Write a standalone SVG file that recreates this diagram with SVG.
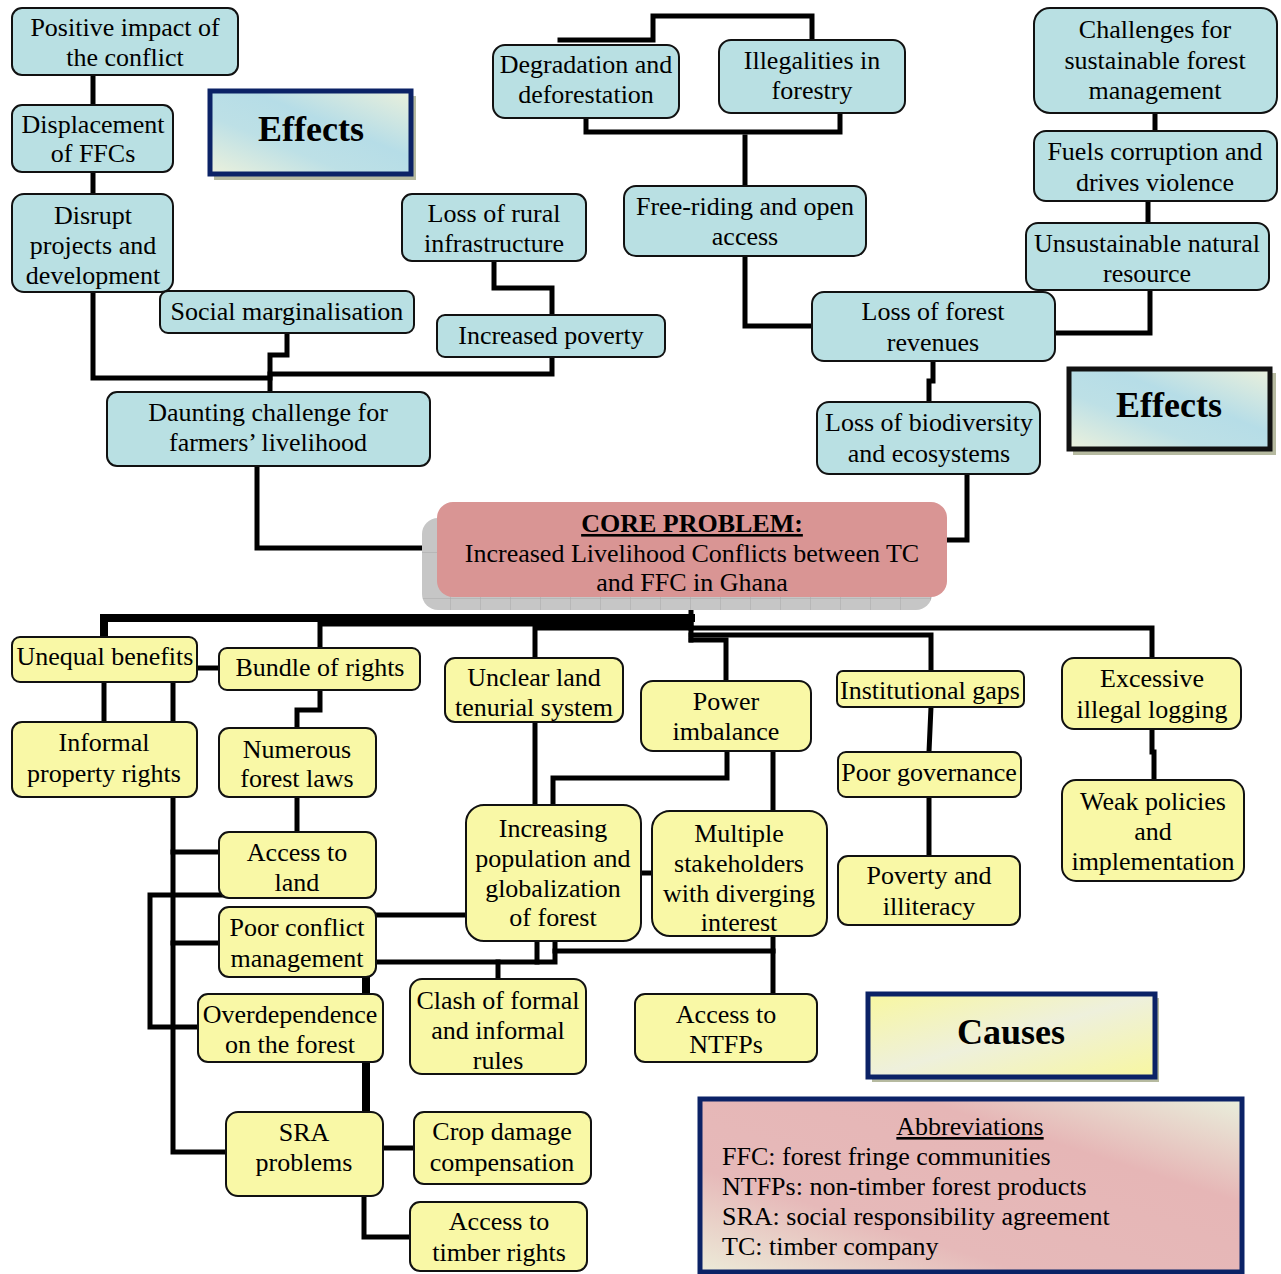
<svg xmlns="http://www.w3.org/2000/svg" width="1281" height="1274" viewBox="0 0 1281 1274">
  <defs>
    <style>
      .b { fill: #b9e0e3; stroke: #111; stroke-width: 2; }
      .y { fill: #f9f8a6; stroke: #111; stroke-width: 2; }
      .t { font-family: "Liberation Serif", "Times New Roman", serif; font-size: 26px; fill: #000; text-anchor: middle; }
      .ts { font-family: "Liberation Serif", "Times New Roman", serif; font-size: 26px; fill: #000; text-anchor: start; }
      .lbl { font-family: "Liberation Serif", "Times New Roman", serif; font-size: 36px; font-weight: bold; fill: #000; text-anchor: middle; }
      .conn path { fill: none; stroke: #000; stroke-width: 5; stroke-linejoin: miter; stroke-linecap: square; }
      .conn path.heavy { stroke-width: 8; }
      .shadow { fill: #b6baa0; }
    </style>
    <linearGradient id="gBlue2" x1="0" y1="1" x2="1" y2="0">
      <stop offset="0" stop-color="#ecf1dc"/>
      <stop offset="0.35" stop-color="#bde0e6"/>
      <stop offset="0.6" stop-color="#b6dde7"/>
      <stop offset="1" stop-color="#eaf0dc"/>
    </linearGradient>
    <linearGradient id="gYellow" x1="0" y1="0" x2="1" y2="1">
      <stop offset="0" stop-color="#f8f7a0"/>
      <stop offset="0.5" stop-color="#eef0dc"/>
      <stop offset="1" stop-color="#f8f7a0"/>
    </linearGradient>
    <linearGradient id="gPink" x1="0" y1="1" x2="1" y2="0">
      <stop offset="0" stop-color="#ecebd8"/>
      <stop offset="0.3" stop-color="#e6b9b9"/>
      <stop offset="0.7" stop-color="#e6b6b6"/>
      <stop offset="1" stop-color="#e9efdc"/>
    </linearGradient>
    <pattern id="grid" width="30" height="46" patternUnits="userSpaceOnUse">
      <rect width="30" height="46" fill="#c6c6c6"/>
      <path d="M0,0 V46 M0,0 H30" stroke="#a9a9a9" stroke-width="1" fill="none"/>
    </pattern>
  </defs>

  <rect width="1281" height="1274" fill="#ffffff"/>

  <!-- connectors -->
  <g id="connectors" class="conn">
    <!-- effects, upper left -->
    <path d="M93,75 V105"/>
    <path d="M93,172 V194"/>
    <path d="M93,292 V378 H270"/>
    <path d="M287,333 V355 H270 V392"/>
    <path d="M552,357 V374 H270"/>
    <path d="M494,261 V288 H552 V315"/>
    <path d="M257,466 V548 H437"/>
    <!-- effects, upper middle -->
    <path d="M560,40 H653 V16 H812 V40"/>
    <path d="M586,118 V132 H840 V113"/>
    <path d="M745,137 V186"/>
    <path d="M745,256 V326 H812"/>
    <!-- effects, right -->
    <path d="M1155,113 V131"/>
    <path d="M1148,201 V223"/>
    <path d="M1150,290 V333 H1055"/>
    <path d="M933,361 V381 H929 V402"/>
    <path d="M967,474 V540 H947"/>
    <!-- core problem down to the causes -->
    <path d="M691,597 V640"/>
    <path class="heavy" d="M691,618 H104 V637"/>
    <path d="M691,624 H320 V648"/>
    <path d="M691,628 H535 V658"/>
    <path d="M691,628 H1152 V658"/>
    <path d="M691,635 H931 V671"/>
    <path d="M691,640 H726 V681"/>
    <!-- causes, left column -->
    <path d="M197,668 H219"/>
    <path d="M104,682 V722"/>
    <path d="M173,682 V1152 H226"/>
    <path d="M320,690 V710 H297 V728"/>
    <path d="M297,797 V832"/>
    <path d="M173,852 H219"/>
    <path d="M173,943 H219"/>
    <path d="M222,895 H150 V1027 H198"/>
    <path class="heavy" d="M366,977 V994"/>
    <path class="heavy" d="M366,1062 V1112"/>
    <path d="M383,1148 H414"/>
    <path d="M364,1196 V1237 H410"/>
    <!-- causes, middle -->
    <path d="M376,915 H466"/>
    <path d="M376,962 H555 V941"/>
    <path d="M537,941 V962"/>
    <path d="M498,962 V979"/>
    <path d="M555,951 H773"/>
    <path d="M773,936 V994"/>
    <path d="M535,722 V805"/>
    <path d="M727,751 V778 H553 V805"/>
    <path d="M773,751 V811"/>
    <path d="M641,873 H652"/>
    <!-- causes, right -->
    <path d="M931,707 L929,752"/>
    <path d="M929,797 V856"/>
    <path d="M1152,729 V752 H1154 V780"/>
  </g>

  <!-- effects label, left -->
  <g id="label-effects-left">
    <rect class="shadow" x="214" y="96" width="202" height="84"/>
    <rect x="210" y="91" width="201" height="83" fill="url(#gBlue2)" stroke="#0b2266" stroke-width="5"/>
    <text class="lbl" x="311" y="141">Effects</text>
  </g>

  <!-- effects label, right -->
  <g id="label-effects-right">
    <rect class="shadow" x="1073" y="373" width="203" height="82"/>
    <rect x="1069" y="369" width="201" height="80" fill="url(#gBlue2)" stroke="#111" stroke-width="5"/>
    <text class="lbl" x="1169" y="417">Effects</text>
  </g>

  <!-- effects nodes -->
  <g id="n-positive-impact">
    <rect class="b" x="12" y="8" width="226" height="67" rx="10"/>
    <text class="t" x="125" y="36">Positive impact of</text>
    <text class="t" x="125" y="66">the conflict</text>
  </g>
  <g id="n-displacement">
    <rect class="b" x="12" y="105" width="161" height="67" rx="10"/>
    <text class="t" x="93" y="133">Displacement</text>
    <text class="t" x="93" y="162">of FFCs</text>
  </g>
  <g id="n-disrupt">
    <rect class="b" x="12" y="194" width="161" height="98" rx="12"/>
    <text class="t" x="93" y="224">Disrupt</text>
    <text class="t" x="93" y="254">projects and</text>
    <text class="t" x="93" y="284">development</text>
  </g>
  <g id="n-social-marginalisation">
    <rect class="b" x="160" y="291" width="254" height="42" rx="8"/>
    <text class="t" x="287" y="320">Social marginalisation</text>
  </g>
  <g id="n-rural-infrastructure">
    <rect class="b" x="402" y="194" width="184" height="67" rx="10"/>
    <text class="t" x="494" y="222">Loss of rural</text>
    <text class="t" x="494" y="252">infrastructure</text>
  </g>
  <g id="n-increased-poverty">
    <rect class="b" x="437" y="315" width="228" height="42" rx="8"/>
    <text class="t" x="551" y="344">Increased poverty</text>
  </g>
  <g id="n-daunting-challenge">
    <rect class="b" x="107" y="392" width="323" height="74" rx="10"/>
    <text class="t" x="268" y="421">Daunting challenge for</text>
    <text class="t" x="268" y="451">farmers’ livelihood</text>
  </g>
  <g id="n-degradation">
    <rect class="b" x="493" y="45" width="186" height="73" rx="12"/>
    <text class="t" x="586" y="73">Degradation and</text>
    <text class="t" x="586" y="103">deforestation</text>
  </g>
  <g id="n-illegalities">
    <rect class="b" x="719" y="40" width="186" height="73" rx="12"/>
    <text class="t" x="812" y="69">Illegalities in</text>
    <text class="t" x="812" y="99">forestry</text>
  </g>
  <g id="n-free-riding">
    <rect class="b" x="624" y="186" width="242" height="70" rx="12"/>
    <text class="t" x="745" y="215">Free-riding and open</text>
    <text class="t" x="745" y="245">access</text>
  </g>
  <g id="n-challenges-sfm">
    <rect class="b" x="1034" y="8" width="243" height="105" rx="16"/>
    <text class="t" x="1155" y="38">Challenges for</text>
    <text class="t" x="1155" y="69">sustainable forest</text>
    <text class="t" x="1155" y="99">management</text>
  </g>
  <g id="n-fuels-corruption">
    <rect class="b" x="1034" y="131" width="243" height="70" rx="12"/>
    <text class="t" x="1155" y="160">Fuels corruption and</text>
    <text class="t" x="1155" y="191">drives violence</text>
  </g>
  <g id="n-unsustainable">
    <rect class="b" x="1026" y="223" width="243" height="67" rx="12"/>
    <text class="t" x="1147" y="252">Unsustainable natural</text>
    <text class="t" x="1147" y="282">resource</text>
  </g>
  <g id="n-forest-revenues">
    <rect class="b" x="812" y="292" width="243" height="69" rx="12"/>
    <text class="t" x="933" y="320">Loss of forest</text>
    <text class="t" x="933" y="351">revenues</text>
  </g>
  <g id="n-biodiversity">
    <rect class="b" x="817" y="402" width="223" height="72" rx="12"/>
    <text class="t" x="929" y="431">Loss of biodiversity</text>
    <text class="t" x="929" y="462">and ecosystems</text>
  </g>

  <!-- core problem -->
  <g id="n-core-problem">
    <rect x="422" y="518" width="510" height="92" rx="16" fill="url(#grid)"/>
    <rect x="437" y="502" width="510" height="95" rx="16" fill="#d99594"/>
    <text class="t" x="692" y="532" font-weight="bold" text-decoration="underline">CORE PROBLEM:</text>
    <text class="t" x="692" y="562">Increased Livelihood Conflicts between TC</text>
    <text class="t" x="692" y="591">and FFC in Ghana</text>
  </g>

  <!-- causes nodes -->
  <g id="n-unequal-benefits">
    <rect class="y" x="12" y="637" width="185" height="45" rx="8"/>
    <text class="t" x="105" y="665">Unequal benefits</text>
  </g>
  <g id="n-bundle-of-rights">
    <rect class="y" x="219" y="648" width="201" height="42" rx="8"/>
    <text class="t" x="320" y="676">Bundle of rights</text>
  </g>
  <g id="n-unclear-land">
    <rect class="y" x="445" y="658" width="178" height="64" rx="10"/>
    <text class="t" x="534" y="686">Unclear land</text>
    <text class="t" x="534" y="716">tenurial system</text>
  </g>
  <g id="n-power-imbalance">
    <rect class="y" x="641" y="681" width="170" height="70" rx="12"/>
    <text class="t" x="726" y="710">Power</text>
    <text class="t" x="726" y="740">imbalance</text>
  </g>
  <g id="n-institutional-gaps">
    <rect class="y" x="837" y="671" width="187" height="36" rx="6"/>
    <text class="t" x="930" y="699">Institutional gaps</text>
  </g>
  <g id="n-illegal-logging">
    <rect class="y" x="1062" y="658" width="179" height="71" rx="12"/>
    <text class="t" x="1152" y="687">Excessive</text>
    <text class="t" x="1152" y="718">illegal logging</text>
  </g>
  <g id="n-informal-property">
    <rect class="y" x="12" y="722" width="185" height="75" rx="10"/>
    <text class="t" x="104" y="751">Informal</text>
    <text class="t" x="104" y="782">property rights</text>
  </g>
  <g id="n-forest-laws">
    <rect class="y" x="219" y="728" width="157" height="69" rx="10"/>
    <text class="t" x="297" y="758">Numerous</text>
    <text class="t" x="297" y="787">forest laws</text>
  </g>
  <g id="n-poor-governance">
    <rect class="y" x="838" y="752" width="183" height="45" rx="8"/>
    <text class="t" x="929" y="781">Poor governance</text>
  </g>
  <g id="n-weak-policies">
    <rect class="y" x="1062" y="780" width="182" height="101" rx="14"/>
    <text class="t" x="1153" y="810">Weak policies</text>
    <text class="t" x="1153" y="840">and</text>
    <text class="t" x="1153" y="870">implementation</text>
  </g>
  <g id="n-access-land">
    <rect class="y" x="219" y="832" width="157" height="66" rx="10"/>
    <text class="t" x="297" y="861">Access to</text>
    <text class="t" x="297" y="891">land</text>
  </g>
  <g id="n-population">
    <rect class="y" x="466" y="805" width="175" height="136" rx="18"/>
    <text class="t" x="553" y="837">Increasing</text>
    <text class="t" x="553" y="867">population and</text>
    <text class="t" x="553" y="897">globalization</text>
    <text class="t" x="553" y="926">of forest</text>
  </g>
  <g id="n-stakeholders">
    <rect class="y" x="652" y="811" width="175" height="125" rx="18"/>
    <text class="t" x="739" y="842">Multiple</text>
    <text class="t" x="739" y="872">stakeholders</text>
    <text class="t" x="739" y="902">with diverging</text>
    <text class="t" x="739" y="931">interest</text>
  </g>
  <g id="n-poverty-illiteracy">
    <rect class="y" x="838" y="856" width="182" height="69" rx="10"/>
    <text class="t" x="929" y="884">Poverty and</text>
    <text class="t" x="929" y="915">illiteracy</text>
  </g>
  <g id="n-conflict-management">
    <rect class="y" x="219" y="907" width="157" height="70" rx="10"/>
    <text class="t" x="297" y="936">Poor conflict</text>
    <text class="t" x="297" y="967">management</text>
  </g>
  <g id="n-overdependence">
    <rect class="y" x="198" y="994" width="185" height="68" rx="10"/>
    <text class="t" x="290" y="1023">Overdependence</text>
    <text class="t" x="290" y="1053">on the forest</text>
  </g>
  <g id="n-clash-rules">
    <rect class="y" x="410" y="979" width="176" height="95" rx="12"/>
    <text class="t" x="498" y="1009">Clash of formal</text>
    <text class="t" x="498" y="1039">and informal</text>
    <text class="t" x="498" y="1069">rules</text>
  </g>
  <g id="n-access-ntfps">
    <rect class="y" x="635" y="994" width="182" height="68" rx="10"/>
    <text class="t" x="726" y="1023">Access to</text>
    <text class="t" x="726" y="1053">NTFPs</text>
  </g>
  <g id="n-sra-problems">
    <rect class="y" x="226" y="1112" width="157" height="84" rx="12"/>
    <text class="t" x="304" y="1141">SRA</text>
    <text class="t" x="304" y="1171">problems</text>
  </g>
  <g id="n-crop-damage">
    <rect class="y" x="414" y="1112" width="177" height="72" rx="10"/>
    <text class="t" x="502" y="1140">Crop damage</text>
    <text class="t" x="502" y="1171">compensation</text>
  </g>
  <g id="n-timber-rights">
    <rect class="y" x="410" y="1202" width="177" height="69" rx="10"/>
    <text class="t" x="499" y="1230">Access to</text>
    <text class="t" x="499" y="1261">timber rights</text>
  </g>

  <!-- causes label -->
  <g id="label-causes">
    <rect class="shadow" x="872" y="998" width="287" height="84"/>
    <rect x="868" y="994" width="287" height="83" fill="url(#gYellow)" stroke="#0b2266" stroke-width="5"/>
    <text class="lbl" x="1011" y="1044">Causes</text>
  </g>

  <!-- abbreviations -->
  <g id="abbreviations">
    <rect x="700" y="1099" width="542" height="173" fill="url(#gPink)" stroke="#0b2266" stroke-width="5"/>
    <text class="t" x="970" y="1135" text-decoration="underline">Abbreviations</text>
    <text class="ts" x="722" y="1165">FFC: forest fringe communities</text>
    <text class="ts" x="722" y="1195">NTFPs: non-timber forest products</text>
    <text class="ts" x="722" y="1225">SRA: social responsibility agreement</text>
    <text class="ts" x="722" y="1255">TC: timber company</text>
  </g>
</svg>
